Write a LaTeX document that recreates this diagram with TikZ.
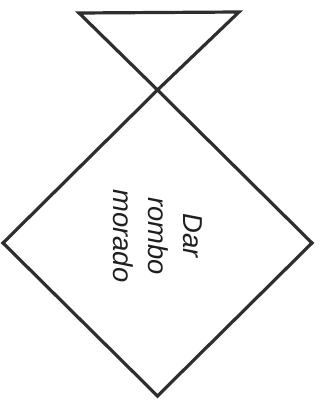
\documentclass[tikz,border=0pt]{standalone}
\usepackage{fontspec}
\newfontfamily\labelfont{Liberation Sans}
\usetikzlibrary{shapes.geometric, positioning, calc}
\tikzset{
  rombo/.style={
    diamond, draw=black!82, line width=3.2bp,
    minimum width=309bp, minimum height=306bp,
    inner sep=0pt, outer sep=0pt
  },
  etiqueta/.style={
    rotate=-90, align=center, text=black!88,
    font=\labelfont\itshape\fontsize{27.5}{35}\selectfont
  },
  trazo/.style={draw=black!82, line width=3.2bp, line join=miter},
}
\begin{document}
\begin{tikzpicture}[x=1bp, y=1bp]
\useasboundingbox (0,0) rectangle (324,400);

% --- Rombo principal ---
\node[rombo] (rombo) at (157.5,157) {};
\node[etiqueta] (texto) at ($(rombo.center)+(0.5,7)$) {Dar\\rombo\\morado};

% --- Triangulo superior ---
\coordinate (izq) at (79,387);
\coordinate (der) at (239,388);
\draw[trazo] (izq) -- (der) -- (rombo.north) -- cycle;

\end{tikzpicture}
\end{document}
